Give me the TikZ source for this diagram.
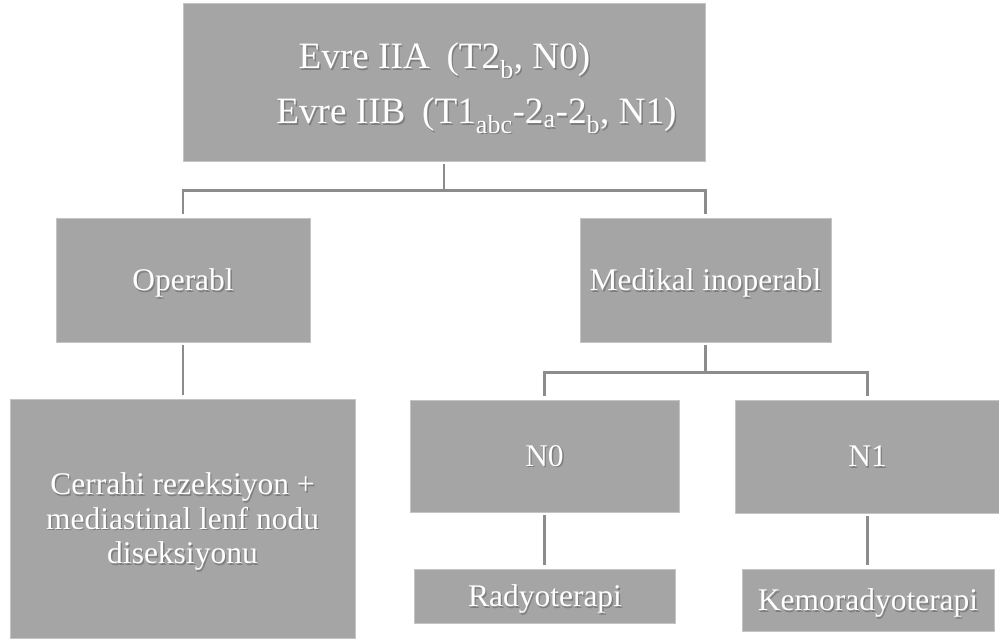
\documentclass[tikz,border=0pt]{standalone}
\usepackage{fontspec}
\setmainfont{Liberation Serif}
\usepackage{xcolor}
\definecolor{boxfill}{HTML}{A5A5A5}
\definecolor{boxedge}{HTML}{C4C4C4}
\definecolor{linkc}{HTML}{8C8C8C}
\definecolor{shadowc}{HTML}{7E7E7E}
% white label with a small dark shadow behind it
\newcommand\shd[1]{\rlap{\hspace{1.4pt}\raisebox{-1.4pt}{\textcolor{shadowc}{#1}}}#1}
\tikzset{
  boxnode/.style={rectangle, fill=boxfill, draw=boxedge, line width=0.8pt,
    inner sep=0pt, text=white, align=center, text depth=0pt,
    font=\fontsize{31.5}{34.5}\selectfont},
  toptext/.style={inner sep=0pt, text=white, anchor=base,
    font=\fontsize{37.2}{41}\selectfont},
  conn/.style={draw=linkc, line width=2.3pt, shorten <=3pt, shorten >=3.5pt}
}
\begin{document}
\begin{tikzpicture}[x=1pt,y=-1pt]
\useasboundingbox (0,0) rectangle (999,644);

% boxes
\node[boxnode, minimum width=522pt, minimum height=158pt] (top) at (444,82) {};
\node[toptext] (l1) at (444.5,69) {\shd{Evre IIA\hspace{0.45em}(T2\textsubscript{b}, N0)}};
\node[toptext] (l2) at (476.5,124) {\shd{Evre IIB\hspace{0.45em}(T1\textsubscript{abc}-2\textsubscript{a}-2\textsubscript{b}, N1)}};

\node[boxnode, minimum width=254pt, minimum height=124pt] (oper) at (183,280) {\shd{Operabl}};
\node[boxnode, minimum width=251pt, minimum height=124pt] (medi) at (705.5,280) {\shd{Medikal inoperabl}};

\node[boxnode, minimum width=345pt, minimum height=239pt] (cerr) at (182.5,518.5)
  {\shd{Cerrahi rezeksiyon +}\\ \shd{mediastinal lenf nodu}\\ \shd{diseksiyonu}};

\node[boxnode, minimum width=269pt, minimum height=112pt] (n0) at (544.5,456) {\shd{N0}};
\node[boxnode, minimum width=264pt, minimum height=113pt] (n1) at (867.5,456.5) {\shd{N1}};

\node[boxnode, minimum width=261pt, minimum height=54pt] (rady) at (545,596) {\shd{Radyoterapi}};
\node[boxnode, minimum width=252pt, minimum height=62pt] (kemo) at (868,600) {\shd{Kemoradyoterapi}};

% connectors
\draw[conn] (top.south) -- ++(0,29) -| (oper.north);
\draw[conn] (top.south) -- ++(0,29) -| (medi.north);
\draw[conn] (oper.south) -- (oper.south |- cerr.north);
\draw[conn] (medi.south) -- ++(0,30) -| (n0.north);
\draw[conn] (medi.south) -- ++(0,30) -| (n1.north);
\draw[conn] (n0.south) -- (n0.south |- rady.north);
\draw[conn] (n1.south) -- (n1.south |- kemo.north);
\end{tikzpicture}
\end{document}
